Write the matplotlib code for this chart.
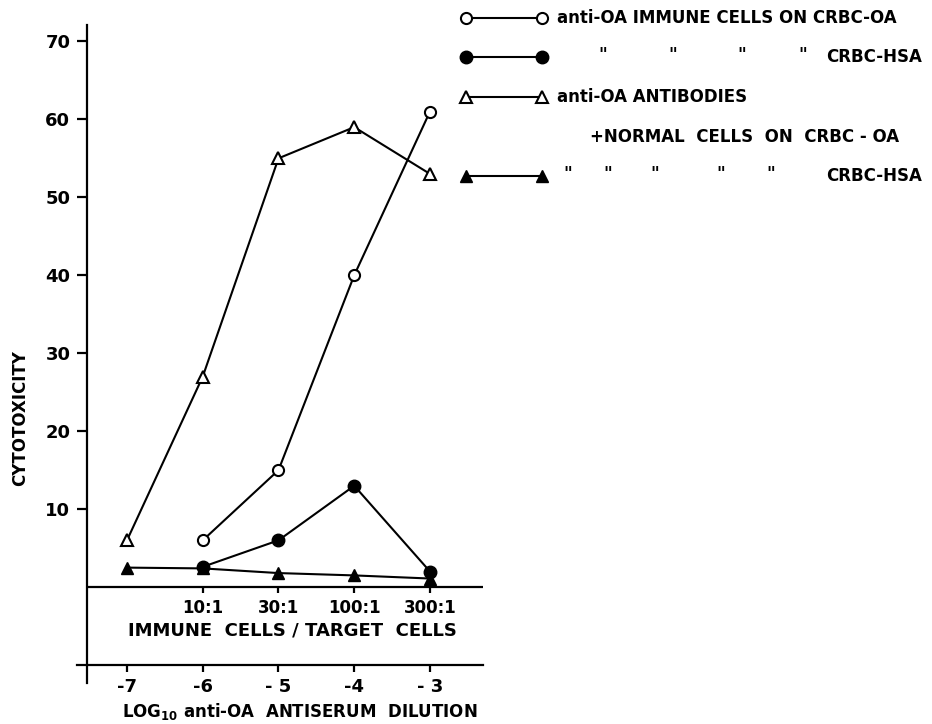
import numpy as np
import matplotlib
matplotlib.use("Agg")
import matplotlib.pyplot as plt
from matplotlib.lines import Line2D

plt.rcParams['font.family'] = ['DejaVu Sans']
plt.rcParams['font.weight'] = 'bold'
plt.rcParams['mathtext.fontset'] = 'custom'
plt.rcParams['mathtext.rm'] = 'DejaVu Sans:bold'
plt.rcParams['mathtext.bf'] = 'DejaVu Sans:bold'
plt.rcParams['mathtext.default'] = 'bf'

# log10 antiserum dilution
dilution = [-7, -6, -5, -4, -3]
ratio_x = [-6, -5, -4, -3]
ratio_labels = ['10:1', '30:1', '100:1', '300:1']

# cytotoxicity values
immune_oa = [6, 15, 40, 61]
immune_hsa = [2.6, 6, 13, 2]
antib_oa = [6, 27, 55, 59, 53]
antib_hsa = [2.5, 2.4, 1.8, 1.5, 1.1]

yticks = [10, 20, 30, 40, 50, 60, 70]

W, H = 932, 724
fig = plt.figure(figsize=(W / 100, H / 100), dpi=100)
ax = fig.add_axes([77 / W, (H - 683) / H, (483 - 77) / W, (683 - 25) / H])
ax.set_xlim(-7.66, -2.30)
ax.set_ylim(-12.3, 72.1)

x_axis = -7.528
for s in ['top', 'right']:
    ax.spines[s].set_visible(False)
ax.spines['left'].set_position(('data', x_axis))
ax.spines['bottom'].set_position(('data', -10))
ax.spines['left'].set_linewidth(1.6)
ax.spines['bottom'].set_linewidth(1.6)

ax.set_yticks(yticks)
ax.set_yticklabels([str(v) for v in yticks], fontsize=13, fontweight='bold')
ax.set_xticks(dilution)
ax.set_xticklabels(['-7', '-6', '- 5', '-4', '- 3'], fontsize=13, fontweight='bold')
ax.tick_params(axis='y', direction='out', length=7, width=1.6, pad=5)
ax.tick_params(axis='x', direction='out', length=5, width=1.6, pad=4)

# immune cells / target cells axis at y = 0
ax.hlines(0, x_axis, -2.30, color='black', lw=1.6)
ax.vlines(ratio_x, -0.8, 0, color='black', lw=1.6)
for xv, lab in zip(ratio_x, ratio_labels):
    ax.text(xv, -1.5, lab, ha='center', va='top', fontsize=12, fontweight='bold')
ax.text(-4.82, -5.6, 'IMMUNE  CELLS / TARGET  CELLS', ha='center', va='center',
        fontsize=13, fontweight='bold')

fig.text(300 / W, 1 - 711 / H, 'LOG$_{10}$ anti-OA  ANTISERUM  DILUTION',
         ha='center', va='center', fontsize=12, fontweight='bold')
fig.text(20 / W, 1 - 418 / H, 'CYTOTOXICITY', rotation=90, ha='center', va='center',
         fontsize=12, fontweight='bold')

lw = 1.5
st_open_c = dict(marker='o', ms=8, mfc='white', mec='black', mew=1.5)
st_fill_c = dict(marker='o', ms=9, mfc='black', mec='black')
st_open_t = dict(marker='^', ms=8, mfc='white', mec='black', mew=1.5)
st_fill_t = dict(marker='^', ms=9, mfc='black', mec='black')

ax.plot(dilution, antib_hsa, color='black', lw=lw, **st_fill_t)
ax.plot(ratio_x, immune_hsa, color='black', lw=lw, **st_fill_c)
ax.plot(dilution, antib_oa, color='black', lw=lw, **st_open_t)
ax.plot(ratio_x, immune_oa, color='black', lw=lw, **st_open_c)

# legend drawn by hand to the right of the plot
rows = [18, 57, 97, 137, 176]
styles = [st_open_c, st_fill_c, st_open_t, None, st_fill_t]
for yr, st in zip(rows, styles):
    if st is None:
        continue
    fy = 1 - yr / H
    fig.add_artist(Line2D([466 / W, 542 / W], [fy, fy], color='black', lw=lw,
                          transform=fig.transFigure, **st))

fs = 12
fig.text(557 / W, 1 - rows[0] / H, 'anti-OA IMMUNE CELLS ON CRBC-OA',
         va='center', fontsize=fs, fontweight='bold')
for xq in [603, 673, 742, 803]:
    fig.text(xq / W, 1 - (rows[1] - 2) / H, '"', va='center', ha='center',
             fontsize=fs, fontweight='bold')
fig.text(826 / W, 1 - rows[1] / H, 'CRBC-HSA', va='center', fontsize=fs,
         fontweight='bold')
fig.text(557 / W, 1 - rows[2] / H, 'anti-OA ANTIBODIES', va='center',
         fontsize=fs, fontweight='bold')
fig.text(590 / W, 1 - rows[3] / H, '+NORMAL  CELLS  ON  CRBC - OA', va='center',
         fontsize=fs, fontweight='bold')
for xq in [568, 608, 655, 721, 771]:
    fig.text(xq / W, 1 - (rows[4] - 2) / H, '"', va='center', ha='center',
             fontsize=fs, fontweight='bold')
fig.text(826 / W, 1 - rows[4] / H, 'CRBC-HSA', va='center', fontsize=fs,
         fontweight='bold')

fig.savefig('out.png', dpi=100)
